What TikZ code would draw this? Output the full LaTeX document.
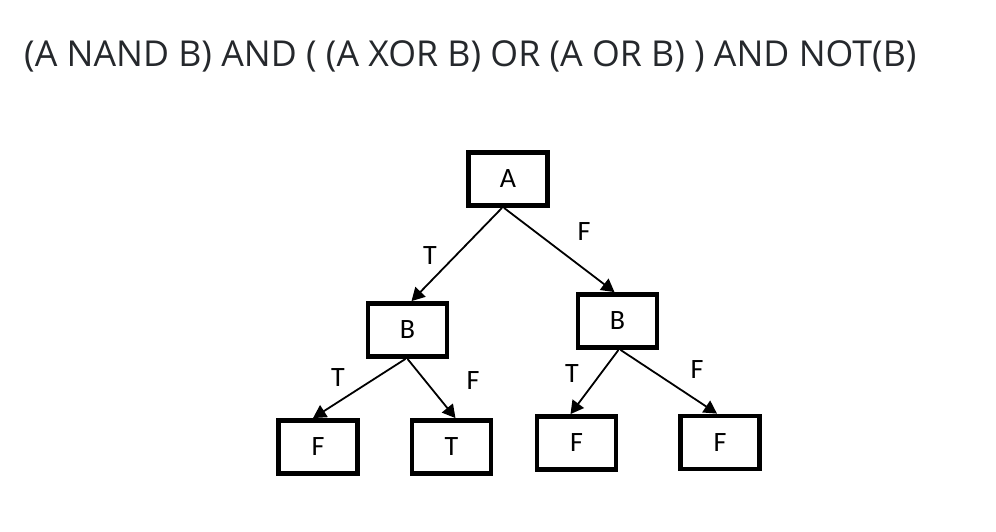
\documentclass[tikz,border=0pt]{standalone}
\usepackage{fontspec}
\setmainfont{Carlito}
\newfontfamily\titlefont{Open Sans}
\usetikzlibrary{arrows.meta}
\definecolor{titlegray}{HTML}{25282C}
\begin{document}
\begin{tikzpicture}[x=1pt,y=-1pt,
  tbox/.style={draw=black,line width=4.8pt,minimum width=79pt,minimum height=53pt,inner sep=0pt,font=\fontsize{28}{32}\selectfont},
  edge/.style={draw=black,line width=1.8pt,-{Triangle[length=13pt,width=14pt]}},
  lbl/.style={font=\fontsize{28}{32}\selectfont,inner sep=0pt}]
\useasboundingbox (0,0) rectangle (996,532);
\node[anchor=base west,inner sep=0pt,text=titlegray,font=\titlefont\fontsize{35.7}{40}\selectfont] (title) at (24,67) {(A NAND B) AND ( (A XOR B) OR (A OR B) ) AND NOT(B)};
\node[tbox] (A) at (508,179) {A};
\node[tbox] (Bl) at (407.5,330) {B};
\node[tbox] (Br) at (617.5,321) {B};
\node[tbox] (F1) at (318,447) {F};
\node[tbox] (T2) at (451.5,447) {T};
\node[tbox] (F3) at (576.5,443) {F};
\node[tbox] (F4) at (720,442.5) {F};
\draw[edge] ([xshift=-6pt]A.south) -- ([xshift=4pt]Bl.north);
\draw[edge] ([xshift=-4pt]A.south) -- ([xshift=-3pt]Br.north);
\draw[edge] ([xshift=-2pt]Bl.south) -- ([xshift=-5pt]F1.north);
\draw[edge] ([xshift=0pt]Bl.south) -- ([xshift=4pt]T2.north);
\draw[edge] ([xshift=1pt]Br.south) -- ([xshift=-6pt]F3.north);
\draw[edge] ([xshift=3pt]Br.south) -- ([xshift=-3pt]F4.north);
\node[lbl] (l1) at (430,256) {T};
\node[lbl] (l2) at (584,232) {F};
\node[lbl] (l3) at (338,378) {T};
\node[lbl] (l4) at (473,381) {F};
\node[lbl] (l5) at (572,374) {T};
\node[lbl] (l6) at (697,370) {F};
\end{tikzpicture}
\end{document}
